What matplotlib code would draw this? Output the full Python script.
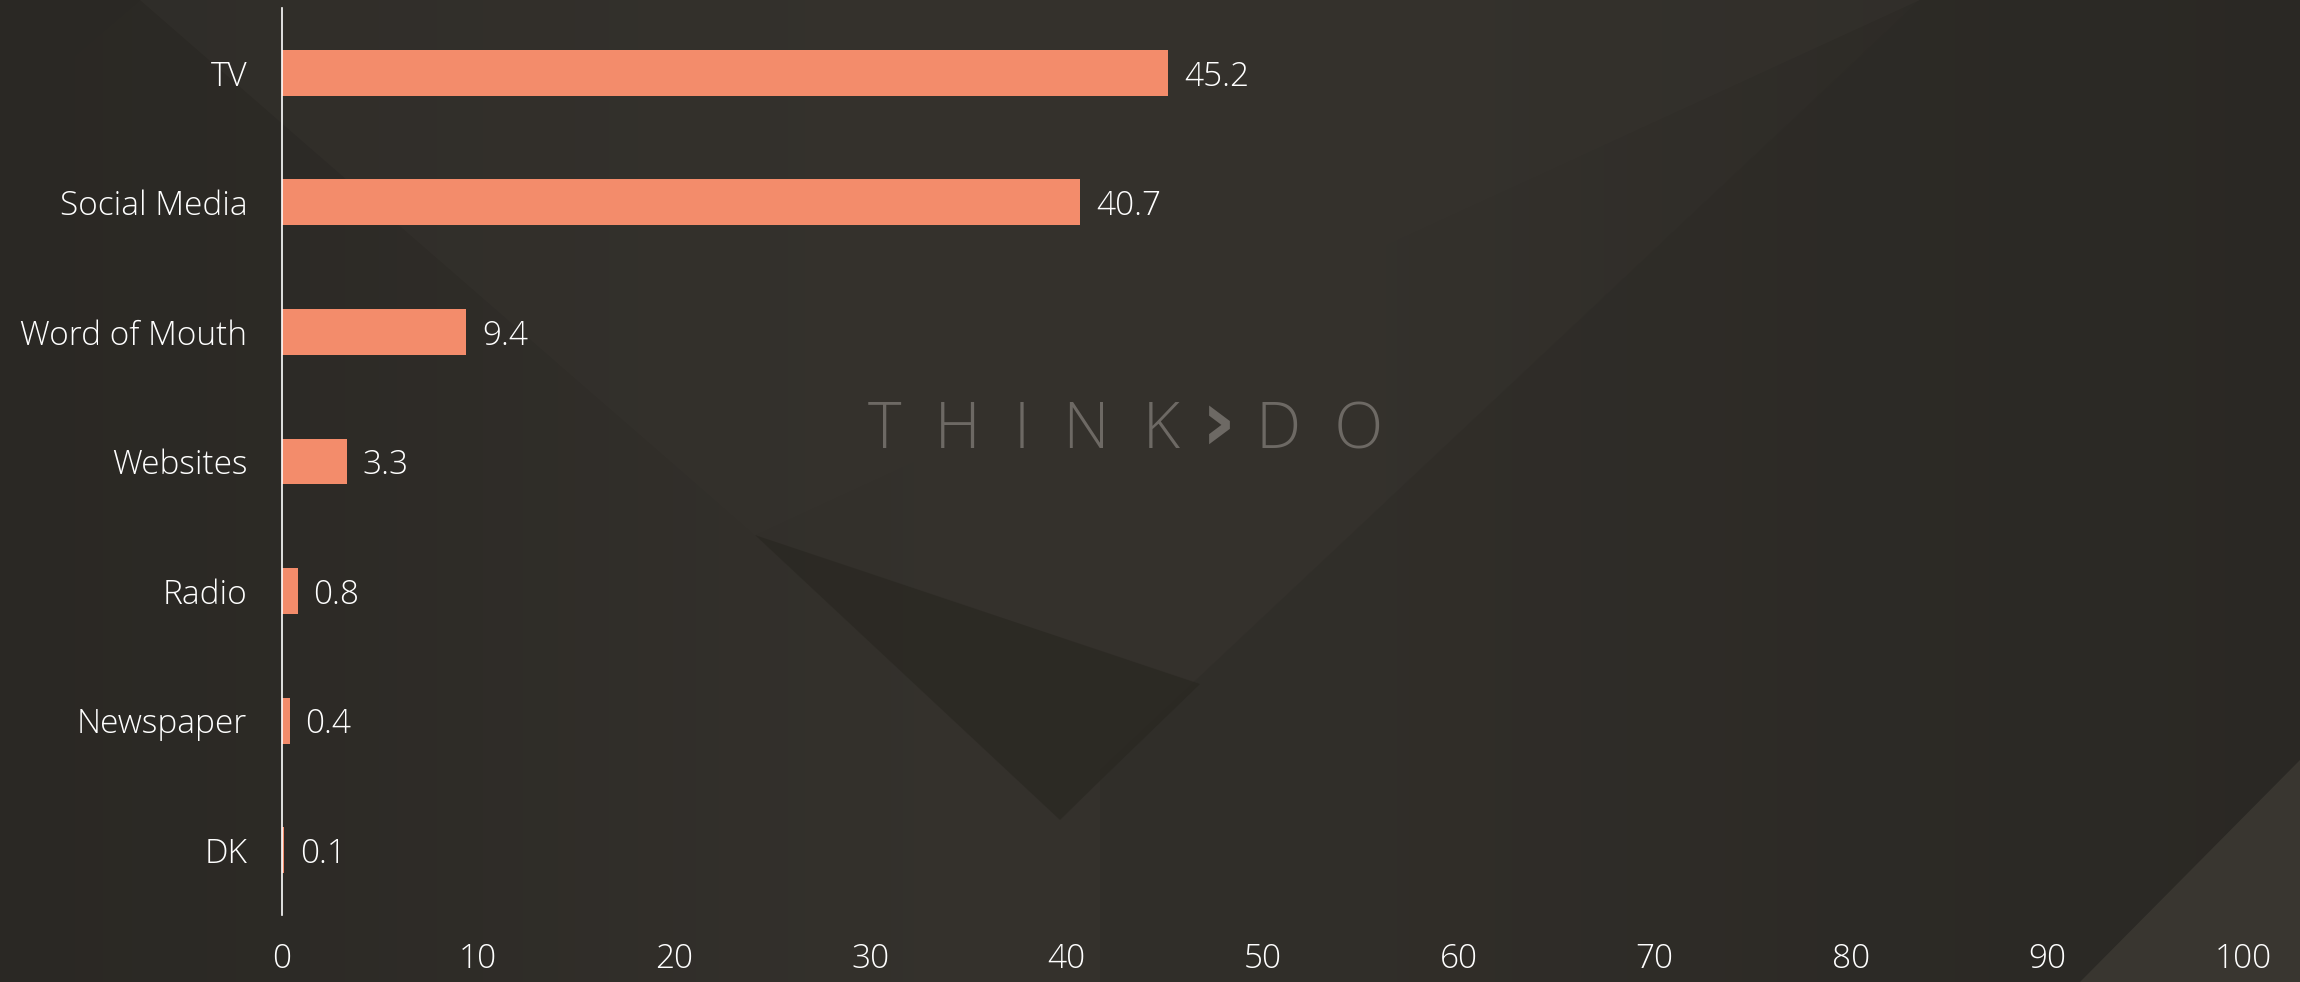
import matplotlib
matplotlib.use("Agg")
import matplotlib.pyplot as plt
from matplotlib.patches import Polygon
import numpy as np

# data
categories = ["TV", "Social Media", "Word of Mouth", "Websites", "Radio", "Newspaper", "DK"]
values = [45.2, 40.7, 9.4, 3.3, 0.8, 0.4, 0.1]
xticks = [0, 10, 20, 30, 40, 50, 60, 70, 80, 90, 100]

bar_color = "#F38C6B"
font = ["Open Sans", "DejaVu Sans"]

fig = plt.figure(figsize=(23, 9.82), dpi=100)

# background: soft horizontal gradient plus a few faceted shapes
bg = fig.add_axes([0, 0, 1, 1], zorder=0)
bg.set_xlim(0, 2300)
bg.set_ylim(982, 0)
bg.axis("off")
xs = np.linspace(0, 1, 400)
prof = np.exp(-((xs - 0.5) / 0.35) ** 2)
grad = np.tile(prof, (10, 1))
c0 = np.array([0x29, 0x27, 0x23]) / 255
c1 = np.array([0x35, 0x32, 0x2d]) / 255
img = c0 + (c1 - c0) * grad[..., None]
bg.imshow(img, extent=[0, 2300, 982, 0], aspect="auto")

shapes = [
    ([(140, 0), (755, 535), (1920, 0)], "#36332e", 0.45),
    ([(1920, 0), (2300, 0), (2300, 760), (2080, 982), (1100, 982), (1100, 770)], "#2b2925", 0.35),
    ([(755, 535), (1200, 684), (1108, 773), (1060, 820)], "#27251f", 0.55),
    ([(2300, 760), (2300, 982), (2080, 982)], "#3d3a34", 0.8),
    ([(0, 0), (140, 0), (0, 120)], "#2a2824", 0.5),
]
for pts, col, a in shapes:
    bg.add_patch(Polygon(pts, closed=True, facecolor=col, edgecolor="none", alpha=a))

# watermark
wm_color = "#6d6964"
bg.text(1180, 432, "T  H  I  N  K", color=wm_color, fontsize=46,
        family=font, fontweight="light", ha="right", va="center")
bg.text(1219, 426, "›", color=wm_color, fontsize=62,
        family="DejaVu Sans", fontweight="bold", ha="center", va="center")
bg.text(1256, 432, "D  O", color=wm_color, fontsize=46,
        family=font, fontweight="light", ha="left", va="center")

ax = fig.add_axes([282 / 2300, 1 - 915 / 982, (2243 - 282) / 2300, (915 - 8) / 982], zorder=1)
ax.patch.set_alpha(0)

y = np.arange(len(categories))
ax.barh(y, values, height=0.355, color=bar_color, zorder=2)
for yi, v in zip(y, values):
    ax.text(v + 0.8, yi, f"{v}", color="white", fontsize=24, family=font,
            fontweight="light", ha="left", va="center_baseline")

ax.set_ylim(len(categories) - 0.5, -0.5)
ax.set_xlim(0, 100)
ax.set_yticks(y)
ax.set_yticklabels(categories)
ax.set_xticks(xticks)
ax.tick_params(length=0, colors="white", labelsize=24)
ax.tick_params(axis="y", pad=25)
ax.tick_params(axis="x", pad=20)
for lab in ax.get_xticklabels() + ax.get_yticklabels():
    lab.set_family(font)
    lab.set_fontweight("light")

for s in ["top", "right", "bottom"]:
    ax.spines[s].set_visible(False)
ax.spines["left"].set_color("white")
ax.spines["left"].set_linewidth(1.2)

fig.savefig("out.png", dpi=100)
